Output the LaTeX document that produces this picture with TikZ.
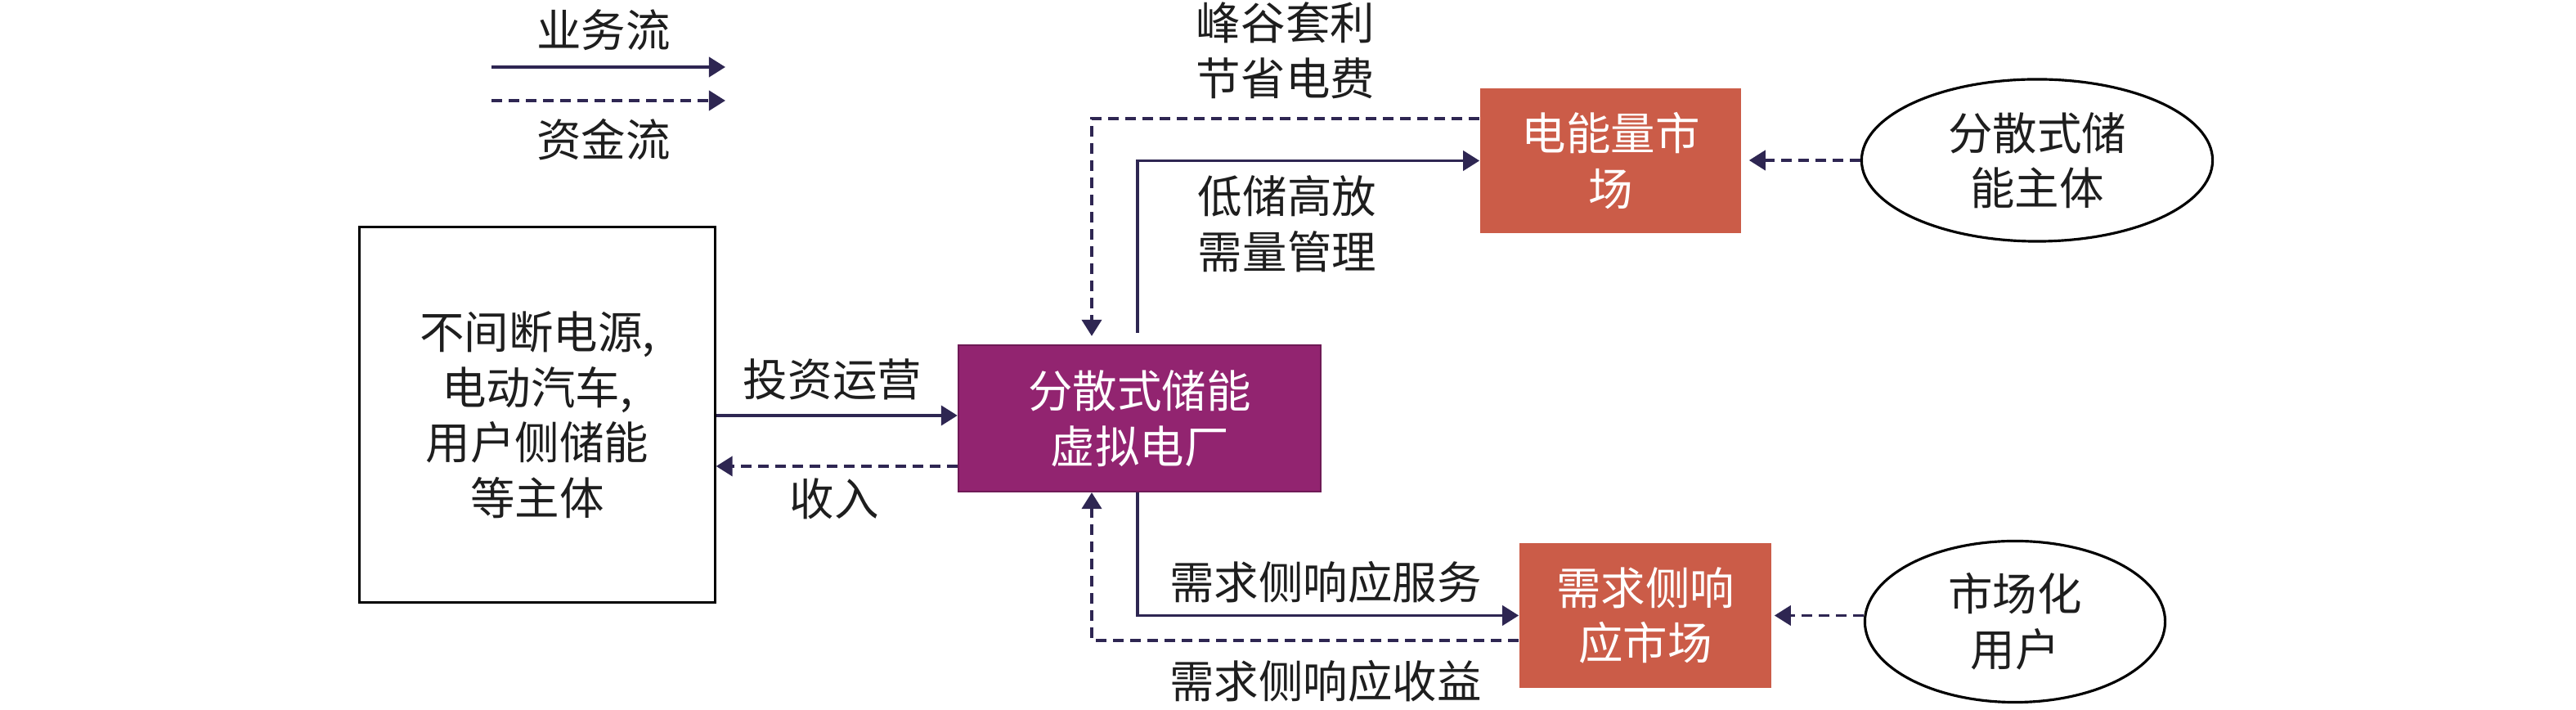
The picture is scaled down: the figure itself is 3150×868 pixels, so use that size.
\documentclass[tikz,border=0pt]{standalone}
\usepackage{fontspec}
\setmainfont{Noto Sans CJK SC}
\usetikzlibrary{arrows.meta,calc,shapes.geometric}
\definecolor{flowc}{HTML}{2E2652}
\definecolor{vppfill}{HTML}{922470}
\definecolor{vppdraw}{HTML}{6E1A55}
\definecolor{mktfill}{HTML}{CB5C48}
\definecolor{txtc}{HTML}{1E1E1E}
\begin{document}
\begin{tikzpicture}[x=0.01cm,y=-0.01cm,
  every node/.style={font=\fontsize{15.5}{19.2}\selectfont, text=txtc, inner sep=0pt},
  lbl/.style={align=center},
  flow/.style={draw=flowc, line width=1.1pt, -{Triangle[length=0.2cm,width=0.24cm]}},
  money/.style={flow, dash pattern=on 0.13cm off 0.08cm},
  plainbox/.style={draw=black, line width=0.9pt, align=center},
  vppbox/.style={fill=vppfill, draw=vppdraw, line width=0.6pt, text=white, align=center},
  mktbox/.style={fill=mktfill, text=white, align=center},
  oval/.style={ellipse, draw=black, line width=0.9pt, align=center}]
\useasboundingbox (0,0) rectangle (3150,868);

% legend
\coordinate (la1) at (601,82);
\coordinate (la2) at (887,82);
\draw[flow] (la1) -- (la2);
\node (lga) at (738,37) {业务流};
\coordinate (lb1) at (601,123);
\coordinate (lb2) at (887,123);
\draw[money] (lb1) -- (lb2);
\node (lgb) at (738,171) {资金流};

% boxes
\node[plainbox, minimum width=4.34cm, minimum height=4.58cm] (big) at (657,507) {不间断电源,\\电动汽车,\\用户侧储能\\等主体};
\node[vppbox, minimum width=4.43cm, minimum height=1.79cm] (vpp) at (1393.5,511.5) {分散式储能\\虚拟电厂};
\node[mktbox, minimum width=3.19cm, minimum height=1.77cm] (em) at (1969.5,196.5) {电能量市\\场};
\node[mktbox, minimum width=3.08cm, minimum height=1.77cm] (dr) at (2012,752.5) {需求侧响\\应市场};
\node[oval, minimum width=4.29cm, minimum height=1.98cm] (ea) at (2491,196) {分散式储\\能主体};
\node[oval, minimum width=3.67cm, minimum height=1.97cm] (eb) at (2464,760) {市场化\\用户};

% connectors
\coordinate (vin) at ($(vpp.west)+(0,-3.5)$);
\coordinate (vout) at ($(vpp.west)+(0,58.5)$);
\draw[flow] (big.east |- vin) -- (vin);
\draw[money] (vout) -- (big.east |- vout);

\coordinate (emin) at ($(em.west)+(0,-51.5)$);
\coordinate (vtopd) at ($(vpp.north)+(-58.5,-10)$);
\draw[money] (emin) -| (vtopd);
\coordinate (vtops) at ($(vpp.north)+(-2.5,-14)$);
\draw[flow] (vtops) |- (em.west);

\coordinate (vbots) at ($(vpp.south)+(-2.5,0)$);
\draw[flow] (vbots) |- (dr.west);
\coordinate (drout) at ($(dr.west)+(0,30.5)$);
\coordinate (vbotd) at ($(vpp.south)+(-58.5,0)$);
\draw[money] (drout) -| (vbotd);

\draw[money, shorten >=0.09cm] (ea.west) -- (ea.west -| em.east);
\draw[money, shorten >=0.03cm] (eb.west |- dr.east) -- (dr.east);

% labels
\node (lab1) at (1018,464) {投资运营};
\node (lab2) at (1020,610) {收入};
\node[lbl] (lab3) at (1572,62) {峰谷套利\\节省电费};
\node[lbl] (lab4) at (1574,273.5) {低储高放\\需量管理};
\node (lab5) at (1621,712) {需求侧响应服务};
\node (lab6) at (1621,833) {需求侧响应收益};
\end{tikzpicture}
\end{document}
